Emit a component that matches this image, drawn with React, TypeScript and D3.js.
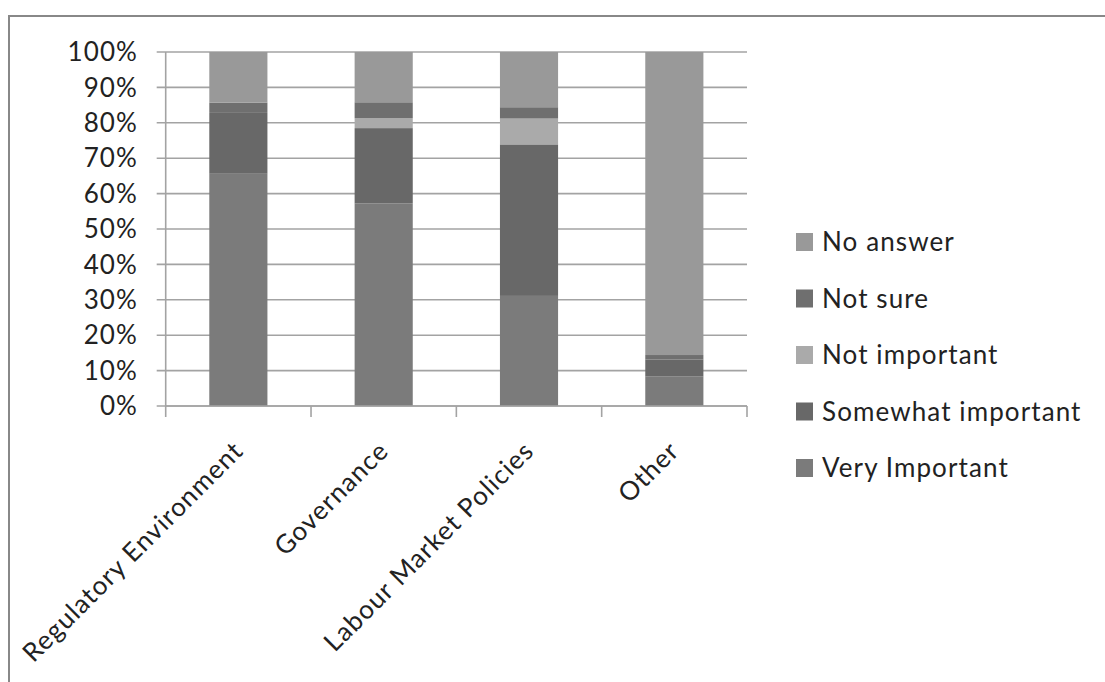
import React from "react";
import * as d3 from "d3";

const categories = ["Regulatory Environment", "Governance", "Labour Market Policies", "Other"];
const seriesNames = ["Very Important", "Somewhat important", "Not important", "Not sure", "No answer"];
const veryImportant = [65.6, 57.2, 31.1, 8.3];
const somewhatImportant = [17.2, 21.3, 42.8, 4.8];
const notImportant = [0, 2.8, 7.3, 0];
const notSure = [2.9, 4.5, 3.2, 1.3];
const noAnswer = [14.3, 14.2, 15.6, 85.6];
const yTicks = [0, 10, 20, 30, 40, 50, 60, 70, 80, 90, 100];
const colors = ["#7b7b7b", "#686868", "#aaaaaa", "#6f6f6f", "#999999"];

const W = 1105;
const H = 682;
const FONT = "Lato, 'Open Sans', sans-serif";
const LS = 1.1;

export default function App() {
  const x = d3.scaleBand<string>().domain(categories).range([165.7, 747]).paddingInner(0.6).paddingOuter(0.3);
  const y = d3.scaleLinear().domain([0, 100]).range([406, 52]);

  const table = categories.map((c, i) => ({
    cat: c,
    "Very Important": veryImportant[i],
    "Somewhat important": somewhatImportant[i],
    "Not important": notImportant[i],
    "Not sure": notSure[i],
    "No answer": noAnswer[i],
  }));
  const stacked = d3.stack<any>().keys(seriesNames)(table);
  const step = x.step();
  const x0 = 165.7;
  const boundaries = d3.range(categories.length + 1).map((i) => x0 + i * step);
  const legendOrder = [...seriesNames].reverse();

  return (
    <svg width={W} height={H} style={{ position: "absolute", left: 0, top: 0, display: "block" }}>
      <rect x={0} y={0} width={W} height={H} fill="#fff" />
      <rect x={9} y={16} width={W + 20} height={H + 20} fill="none" stroke="#888" strokeWidth={2} />
      {/* gridlines */}
      {yTicks.map((t) => (
        <line key={"g" + t} x1={156.7} x2={747} y1={y(t)} y2={y(t)} stroke="#a3a3a3" strokeWidth={1.6} />
      ))}
      {/* bars */}
      {stacked.map((s, si) => (
        <g key={s.key} fill={colors[si]}>
          {s.map((d, i) => (
            <rect key={i} x={x(categories[i])} width={x.bandwidth()} y={y(d[1])} height={Math.max(0, y(d[0]) - y(d[1]))} />
          ))}
        </g>
      ))}
      {/* axes */}
      <line x1={165.7} x2={165.7} y1={52} y2={406} stroke="#a3a3a3" strokeWidth={1.6} />
      <line x1={165.7} x2={747} y1={406} y2={406} stroke="#a3a3a3" strokeWidth={1.6} />
      {boundaries.map((b, i) => (
        <line key={"t" + i} x1={b} x2={b} y1={406} y2={417} stroke="#a3a3a3" strokeWidth={1.6} />
      ))}
      {yTicks.map((t) => (
        <text key={"l" + t} x={138} y={y(t)} dy="0.35em" textAnchor="end" fontFamily={FONT} fontSize={26} letterSpacing={LS} fill="#222">
          {t + "%"}
        </text>
      ))}
      {categories.map((c) => {
        const cx = (x(c) as number) + x.bandwidth() / 2;
        const px = cx;
        const py = 446;
        return (
          <text key={c} x={px} y={py} dy="0.35em" textAnchor="end" transform={`rotate(-45 ${px} ${py})`} fontFamily={FONT} fontSize={26} letterSpacing={LS} fill="#222">
            {c}
          </text>
        );
      })}
      {/* legend */}
      {legendOrder.map((name, i) => {
        const cy = 242 + i * 56.5;
        const ci = seriesNames.indexOf(name);
        return (
          <g key={name}>
            <rect x={796} y={cy - 9} width={17} height={18} fill={colors[ci]} />
            <text x={822} y={cy} dy="0.35em" fontFamily={FONT} fontSize={26} letterSpacing={LS} fill="#222">
              {name}
            </text>
          </g>
        );
      })}
    </svg>
  );
}
